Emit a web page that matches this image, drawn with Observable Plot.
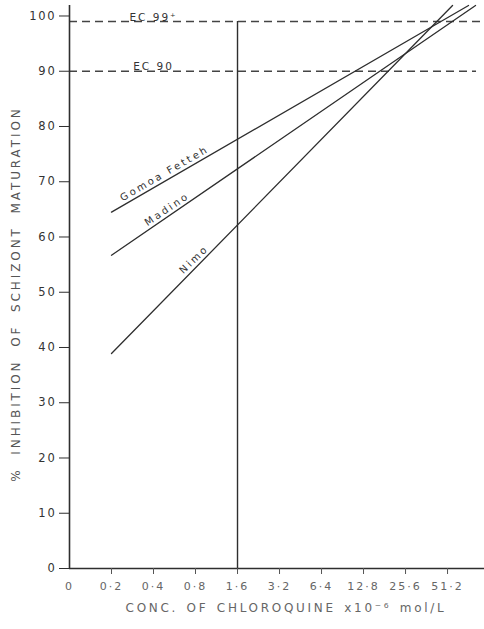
<!DOCTYPE html>
<html><head><meta charset="utf-8">
<script src="https://cdn.jsdelivr.net/npm/d3@7"></script>
<script src="https://cdn.jsdelivr.net/npm/@observablehq/plot@0.6"></script>
<style>
body{margin:0;background:#fff}
#chart svg{display:block;font-family:"DejaVu Sans",sans-serif}
</style>
</head><body><div id="chart"></div>
<script>
// ---- data ----
const concTicks = [0, 0.2, 0.4, 0.8, 1.6, 3.2, 6.4, 12.8, 25.6, 51.2];
const concLabels = ["0", "0·2", "0·4", "0·8", "1·6", "3·2", "6·4", "12·8", "25·6", "51·2"];
const yTicks = [0, 10, 20, 30, 40, 50, 60, 70, 80, 90, 100];
const strains = ["Gomoa Fetteh", "Madino", "Nimo"];
const startConc = [0.2, 0.2, 0.2];
const startValue = [64.5, 56.7, 38.9];
const endConc = [72.4, 81.3, 55.6];
const endValue = [101.9, 101.9, 101.9];
const ecLevels = [99, 90];
const ecLabels = ["EC 99⁺", "EC 90"];
const refConc = 1.6;
const yLabel = "% INHIBITION OF SCHIZONT MATURATION";
const xLabel = "CONC. OF CHLOROQUINE x10⁻⁶ mol/L";

// position on the doubling-dilution axis (0 sits one step left of 0·2)
const pos = c => c === 0 ? 0 : Math.log2(c / 0.1);
const xMax = 9.88, yMax = 101.9;

const rows = strains.flatMap((s, i) => [
  {strain: s, c: startConc[i], v: startValue[i]},
  {strain: s, c: endConc[i], v: endValue[i]}
]);
const lineAt = (i, c) => {
  const p0 = pos(startConc[i]), p1 = pos(endConc[i]);
  return startValue[i] + (endValue[i] - startValue[i]) * (pos(c) - p0) / (p1 - p0);
};
const labelConc = [0.48, 0.5, 0.78];
const labelAngle = [-30, -34, -44];
const labelDy = [-8, -8, -10];
const labelFor = d => concLabels[concTicks.findIndex(c => Math.abs(pos(c) - d) < 1e-6)];
const tag = name => () => name;

const ink = "#2e2e2e";
const chart = Plot.plot({
  width: 484, height: 629,
  marginLeft: 69, marginRight: 0, marginTop: 5, marginBottom: 61,
  x: {type: "linear", domain: [0, xMax], axis: null},
  y: {domain: [0, yMax], axis: null},
  marks: [
    // EC reference levels
    Plot.ruleY(ecLevels, {x1: 0, x2: (d, i) => i === 0 ? 9.83 : 9.69, stroke: "#444", strokeWidth: 1.6, strokeDasharray: "8,5"}),
    Plot.text(ecLevels, {x: pos(0.4), y: d => d, text: (d, i) => ecLabels[i], lineAnchor: "bottom", dy: -1, fontSize: 10.5, fill: "#333", ariaLabel: tag("ec-label")}),
    // vertical reference at 1.6
    Plot.ruleX([refConc], {x: d => pos(d), y1: 0, y2: 99, stroke: ink, strokeWidth: 1.4}),
    // axes lines
    Plot.ruleX([0], {y1: 0, y2: yMax, stroke: ink, strokeWidth: 1.6}),
    Plot.ruleY([0], {x1: 0, x2: xMax, stroke: ink, strokeWidth: 1.4}),
    Plot.axisY({ticks: yTicks, tickSize: 10, tickPadding: 3, fontSize: 11.5, stroke: ink, fill: "#333", label: null}),
    Plot.axisX({ticks: concTicks.slice(1).map(pos), tickSize: 6, tickFormat: () => "", stroke: "#555", label: null}),
    Plot.axisX({ticks: concTicks.map(pos), tickSize: 0, tickPadding: 14, tickFormat: labelFor, fontSize: 11, fill: "#666", label: null}),
    // strain regression lines
    Plot.line(rows, {x: d => pos(d.c), y: "v", z: "strain", stroke: ink, strokeWidth: 1.3}),
    ...strains.map((s, i) => Plot.text([s], {
      x: pos(labelConc[i]), y: lineAt(i, labelConc[i]), text: d => d,
      rotate: labelAngle[i], dy: labelDy[i], fontSize: 10, fill: "#333", ariaLabel: tag("series-label")
    })),
    // axis titles
    Plot.text([yLabel], {frameAnchor: "left", textAnchor: "middle", lineAnchor: "middle", text: d => d, rotate: -90, dx: -53, dy: 7, fontSize: 12, fill: "#555", ariaLabel: tag("y-title")}),
    Plot.text([xLabel], {frameAnchor: "bottom", textAnchor: "middle", lineAnchor: "middle", text: d => d, dx: 9, dy: 40, fontSize: 12, fill: "#666", ariaLabel: tag("x-title")})
  ]
});
document.getElementById("chart").appendChild(chart);
const svg = d3.select(chart);
const spacing = (sel, ls, ws) => {
  svg.selectAll(sel).style("letter-spacing", ls).style("word-spacing", ws || null);
};
spacing("g[aria-label='y-axis tick label'] text", "1.8px");
spacing("g[aria-label='x-axis tick label'] text", "2px");
spacing("text[aria-label='ec-label']", "2px");
spacing("text[aria-label='series-label']", "2.5px");
spacing("text[aria-label='y-title']", "2.9px", "6px");
spacing("text[aria-label='x-title']", "2.7px", "2px");
</script>
</body></html>
